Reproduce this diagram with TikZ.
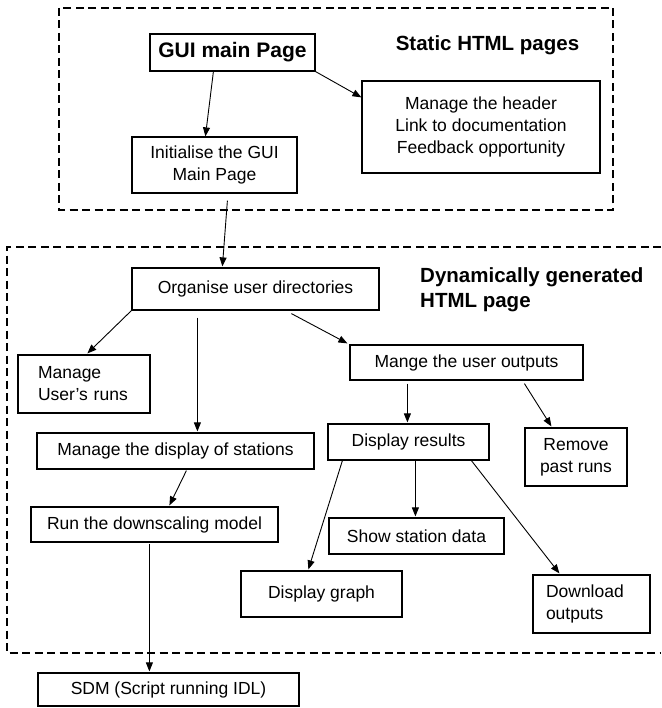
\documentclass[tikz,border=0pt]{standalone}
\usepackage{fontspec}
\setmainfont{Liberation Sans}
\usetikzlibrary{arrows.meta,calc}
\tikzset{
  box/.style={draw, line width=1.2pt, inner sep=0pt, align=center, font=\fontsize{17.5}{22}\selectfont},
  arr/.style={line width=0.9pt, -{Triangle[length=9pt,width=7pt]}},
  region/.style={line width=1.8pt, dash pattern=on 8pt off 4.5pt},
  heading/.style={inner sep=0pt, align=left, font=\fontsize{20.5}{25}\selectfont\bfseries}
}
\begin{document}
\begin{tikzpicture}[x=1pt,y=-1pt]
\useasboundingbox (0,0) rectangle (661,708);
% regions
\draw[region] (59,8) rectangle (613,210);
\draw[region] (661,247) -- (7,247) -- (7,653) -- (661,653);
% headings
\node[heading, anchor=center] (stat) at (487.5,45) {Static HTML pages};
\node[heading, anchor=west] (dyn) at (420,289.5) {Dynamically generated\\HTML page};
% nodes
\node[box, minimum width=165pt, minimum height=37pt, font=\fontsize{21}{25}\selectfont\bfseries] (gui) at (232.5,52.5) {GUI main Page};
\node[box, minimum width=238pt, minimum height=92pt] (hdr) at (481,127) {Manage the header\\Link to documentation\\Feedback opportunity};
\node[box, minimum width=165pt, minimum height=56pt] (init) at (214.5,165) {Initialise the GUI\\Main Page};
\node[box, minimum width=247pt, minimum height=42pt] (org) at (255.5,289) {Organise user directories};
\node[box, minimum height=58pt, text width=92pt, inner xsep=20pt, align=left] (runs) at (84,384) {Manage\\User's runs};
\node[box, minimum width=233pt, minimum height=35pt] (outs) at (466.5,362.5) {Mange the user outputs};
\node[box, minimum width=277pt, minimum height=36pt] (disp) at (175.5,451) {Manage the display of stations};
\node[box, minimum width=161pt, minimum height=36pt] (res) at (408.5,442) {Display results};
\node[box, minimum width=102pt, minimum height=58pt] (rem) at (576,457) {Remove\\past runs};
\node[box, minimum width=247pt, minimum height=35pt] (run) at (154.5,524.5) {Run the downscaling model};
\node[box, minimum width=175pt, minimum height=36pt] (show) at (416.5,536) {Show station data};
\node[box, minimum width=161pt, minimum height=46pt] (graph) at (321.5,594) {Display graph};
\node[box, minimum height=58pt, text width=91pt, inner xsep=13pt, align=left] (down) at (591.5,604) {Download\\outputs};
\node[box, minimum width=261pt, minimum height=33pt] (sdm) at (168.5,689.5) {SDM (Script running IDL)};
% connectors
\draw[arr] ($(gui.south west)+(64,0)$) -- ($(init.north west)+(74,0)$);
\draw[arr] (gui.south east) -- ($(hdr.north west)+(0,17)$);
\draw[arr] ($(init.south west)+(96,7)$) -- ($(org.north west)+(91,-1)$);
\draw[arr] (org.south west) -- ($(runs.north west)+(70,-1)$);
\draw[arr] ($(org.south west)+(66,7)$) -- ($(disp.north west)+(161,-1)$);
\draw[arr] ($(org.south west)+(160,3)$) -- ($(outs.north west)+(-2,-1)$);
\draw[arr] ($(outs.south west)+(58,3)$) -- ($(res.north west)+(80,-1)$);
\draw[arr] ($(outs.south west)+(175,3)$) -- ($(rem.north west)+(27,-1)$);
\draw[arr] ($(disp.south west)+(150,1)$) -- ($(run.north west)+(139,-1)$);
\draw[arr] ($(run.south west)+(119,1)$) -- ($(sdm.north west)+(112,-1)$);
\draw[arr] ($(res.south west)+(88,0)$) -- ($(show.north west)+(87,-1)$);
\draw[arr] ($(res.south west)+(15,0)$) -- ($(graph.north west)+(68,-1)$);
\draw[arr] ($(res.south west)+(144,0)$) -- ($(down.north west)+(27,-1)$);
\end{tikzpicture}
\end{document}
